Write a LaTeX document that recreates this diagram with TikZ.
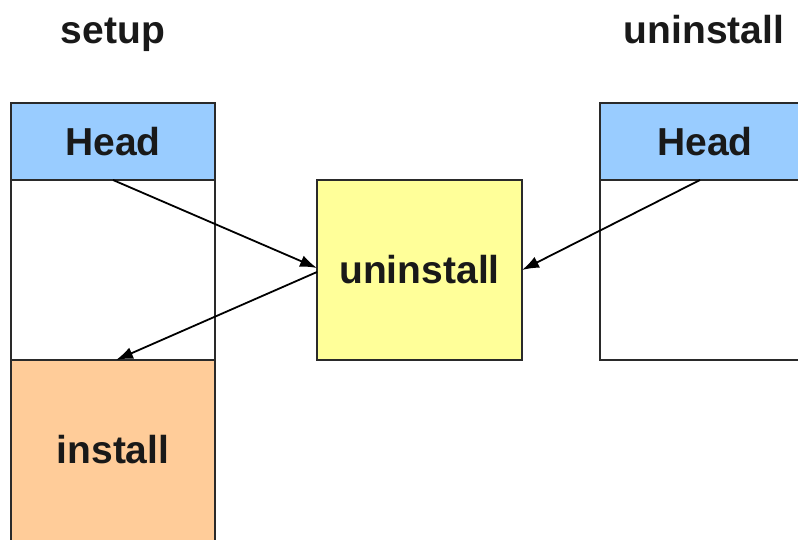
\documentclass[tikz,border=0pt]{standalone}
\usepackage{fontspec}
\setmainfont{Liberation Sans}
\usetikzlibrary{arrows.meta}
\definecolor{headblue}{HTML}{99CCFF}
\definecolor{instorange}{HTML}{FFCC99}
\definecolor{midyellow}{HTML}{FFFF99}
\definecolor{border}{HTML}{2A2A2A}
\begin{document}
\begin{tikzpicture}[x=1pt,y=-1pt,
  box/.style={draw=border,line width=2.5pt,inner sep=0pt,outer sep=0pt,
    font=\fontsize{39}{39}\selectfont\bfseries,text=black!90},
  title/.style={font=\fontsize{39}{39}\selectfont\bfseries,text=black!90,inner sep=0pt},
  conn/.style={draw=black,line width=1.8pt,-{Latex[length=17pt,width=12pt]}}]
\useasboundingbox (0,0) rectangle (798,539);
\clip (0,0) rectangle (798,539);
\fill[white] (0,0) rectangle (798,539);
% titles
\node[title,anchor=base] (tsetup) at (113,43) {setup};
\node[title,anchor=base] (tuninst) at (704,43) {uninstall};
% left column
\node[box,fill=white,minimum width=204pt,minimum height=180pt] (lbody) at (113,270) {};
\node[box,fill=headblue,minimum width=204pt,minimum height=77pt] (lhead) at (113,141.5) {Head};
\node[box,fill=instorange,minimum width=204pt,minimum height=220pt] (install) at (113,470) {};
\node[title] (installtxt) at (113,450) {install};
% middle
\node[box,fill=midyellow,minimum width=205pt,minimum height=180pt] (mid) at (419.5,270) {uninstall};
% right column
\node[box,fill=white,minimum width=220pt,minimum height=180pt] (rbody) at (710,270) {};
\node[box,fill=headblue,minimum width=220pt,minimum height=77pt] (rhead) at (710,141.5) {};
\node[title] (rheadtxt) at (705,141.5) {Head};
% connectors
\coordinate (lheadout) at (113,180);
\coordinate (rheadout) at (700,180);
\coordinate (midin1) at (317,268);
\coordinate (midout) at (317,272);
\coordinate (instin) at (116,360);
\draw[conn] (lheadout) -- (midin1);
\draw[conn] (midout) -- (instin);
\draw[conn] (rheadout) -- (mid.east);
\end{tikzpicture}
\end{document}
